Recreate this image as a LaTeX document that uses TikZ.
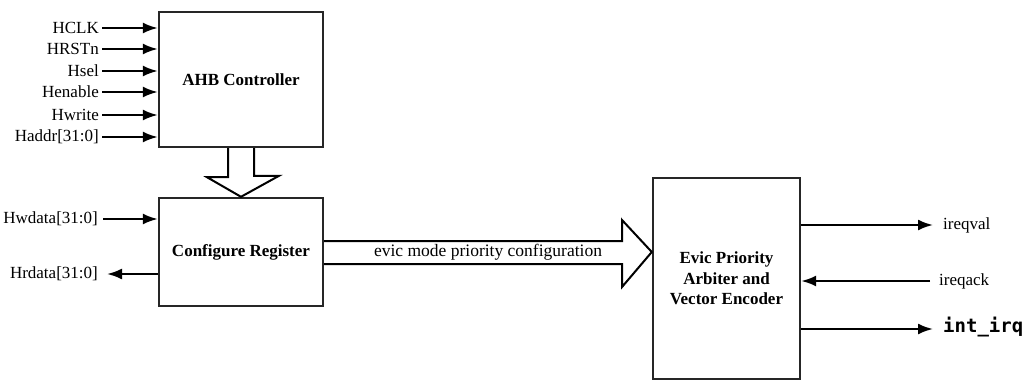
\documentclass[tikz,border=0pt]{standalone}
\usepackage{fontspec}
\setmainfont{Liberation Serif}
\newfontfamily\irqfont{DejaVu Sans Mono}
\usetikzlibrary{arrows.meta}
\colorlet{block edge}{black!85}
\tikzset{
  blockfont/.style={font=\bfseries\fontsize{17}{20.5}\selectfont},
  portfont/.style={font=\fontsize{17}{19}\selectfont}
  }
\tikzstyle{block} = [draw=block edge, line width=2.4pt, blockfont, align=center, inner sep=0pt]
\tikzstyle{port} = [portfont, inner sep=1pt]
\tikzstyle{signal} = [draw, line width=2.2pt, -{Latex[length=15pt,width=11pt]}]
\tikzstyle{bus} = [draw, line width=2pt, line join=miter]
\def\ahbports{{28/hclk/HCLK}, {49/hrstn/HRSTn}, {71/hsel/Hsel}, {92/henable/Henable}, {115/hwrite/Hwrite}, {137/haddr/Haddr[31:0]}}

\begin{document}
\begin{tikzpicture}[x=1pt, y=-1pt]
    \useasboundingbox (0,0) rectangle (1025,383);

    % The three blocks
    \node[block, minimum width=164pt, minimum height=135pt] (ahb) at (241,79.5) {AHB Controller};
    \node[block, minimum width=164pt, minimum height=108pt] (cfg) at (241,252) {Configure Register};
    \node[block, minimum width=147pt, minimum height=201pt] (evic) at (726.5,278.5) {Evic Priority\\Arbiter and\\Vector Encoder};

    % The bus inputs of the AHB controller
    \foreach \y/\name/\text in \ahbports {
      \node[port, anchor=east] (\name) at (100,\y) {\text};
      \path[signal] ([xshift=2pt]\name.east) -- (\name.east -| ahb.west);
    }

    % Write and read data
    \node[port, anchor=east] (hwdata) at (99,219) {Hwdata[31:0]};
    \node[port, anchor=east] (hrdata) at (99,274) {Hrdata[31:0]};
    \path[signal] ([xshift=4pt]hwdata.east) -- (hwdata.east -| cfg.west);
    \path[signal] (hrdata.east -| cfg.west) -- ([xshift=8pt]hrdata.east);

    % The wide arrow from controller to register
    \path[bus] ([xshift=-13pt]ahb.south) -- ++(0,29) -- ++(-21,0) -- (cfg.north)
      -- ++(38,-21) -- ++(-25,0) -- ([xshift=13pt]ahb.south);

    % The wide arrow from register to encoder
    \coordinate (bustop) at (622,241);
    \coordinate (busbot) at (622,264);
    \path[bus] (bustop -| cfg.east) -- (bustop) -- (622,220) -- (evic.west |- 0,252)
      -- (622,287) -- (busbot) -- (busbot -| cfg.east);
    \node[port, font=\fontsize{17.5}{19}\selectfont] (buslabel) at (488,252) {evic mode priority configuration};

    % The outputs of the encoder
    \node[port, anchor=west] (ireqval) at (942,225) {ireqval};
    \node[port, anchor=west] (ireqack) at (938,281) {ireqack};
    \node[anchor=west, inner sep=1pt, font=\irqfont\bfseries\fontsize{19}{22}\selectfont] (intirq) at (942,327) {int\_irq};
    \path[signal] (ireqval.west -| evic.east) -- ([xshift=-9pt]ireqval.west);
    \path[signal] ([xshift=-8pt]ireqack.west) -- (ireqack.west -| evic.east);
    \path[signal] (evic.east |- 0,329) -- ([xshift=-9pt]intirq.west |- 0,329);
\end{tikzpicture}
\end{document}
